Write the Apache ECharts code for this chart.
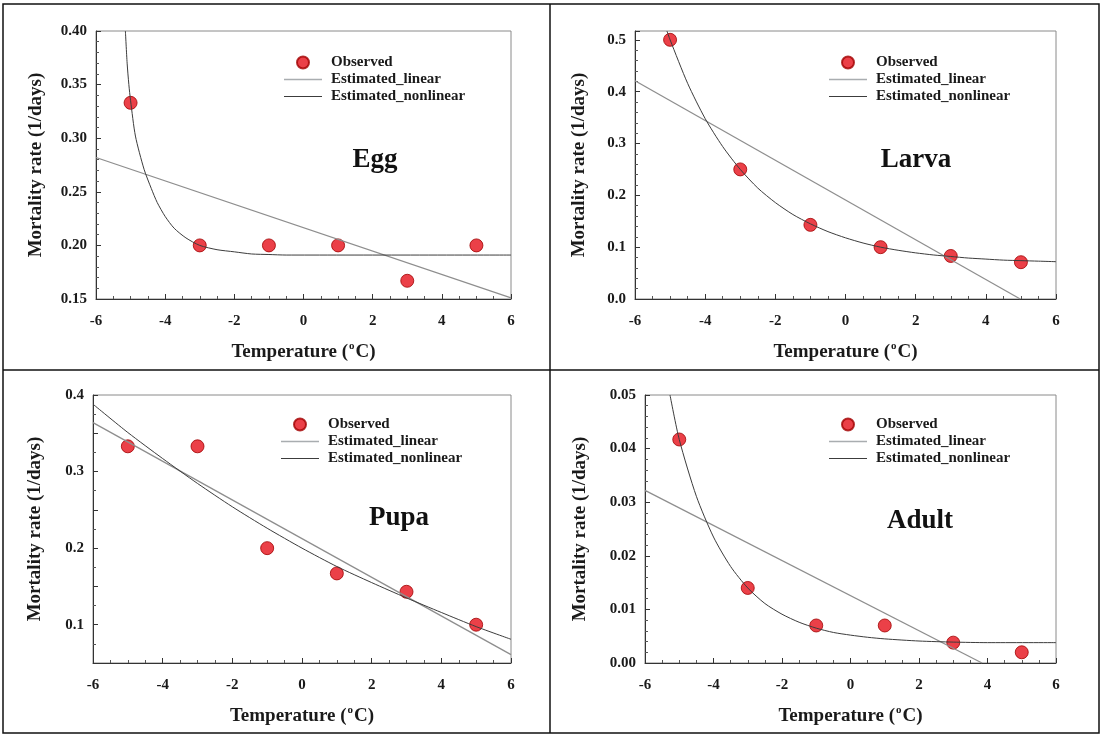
<!DOCTYPE html>
<html><head><meta charset="utf-8">
<script src="https://cdn.jsdelivr.net/npm/echarts@6/dist/echarts.min.js"></script>
<style>html,body{margin:0;padding:0;background:#fff}#c{width:1103px;height:735px}</style>
</head><body><div id="c"></div><script>
// ---- data ----
const temperature = [-5, -3, -1, 1, 3, 5];
const eggObserved   = [0.333, 0.200, 0.200, 0.200, 0.167, 0.200];
const larvaObserved = [0.500, 0.250, 0.143, 0.100, 0.083, 0.071];
const pupaObserved  = [0.333, 0.333, 0.200, 0.167, 0.143, 0.100];
const adultObserved = [0.0417, 0.0140, 0.0070, 0.0070, 0.0038, 0.0020];

const eggLinear   = [[-6, 0.282], [6, 0.151]];
const larvaLinear = [[-6, 0.421], [4.98, 0.0]];
const pupaLinear  = [[-6, 0.364], [6, 0.061]];
const adultLinear = [[-6, 0.0322], [3.84, 0.0]];

const eggNonlinear = [[-5.15,0.400],[-5.10,0.370],[-5.05,0.350],[-5.00,0.335],[-4.86,0.302],[-4.61,0.271],[-4.40,0.253],[-4.23,0.240],[-4.00,0.227],[-3.74,0.216],[-3.40,0.207],[-3.00,0.200],[-2.50,0.196],[-2.00,0.194],[-1.50,0.192],[-1.00,0.1915],[-0.50,0.191],[6,0.191]];
const larvaNonlinear = [[-5.09,0.517],[-5,0.500],[-4.5,0.416],[-4,0.348],[-3.5,0.294],[-3,0.250],[-2.5,0.214],[-2,0.186],[-1.5,0.163],[-1,0.145],[-0.5,0.130],[0,0.118],[0.5,0.108],[1,0.100],[1.5,0.094],[2,0.089],[2.5,0.085],[3,0.082],[3.5,0.079],[4,0.077],[4.5,0.075],[5,0.074],[5.5,0.073],[6,0.072]];
const pupaNonlinear = [[-6,0.388],[-5,0.351],[-4,0.317],[-3,0.2845],[-2,0.254],[-1,0.226],[0,0.200],[1,0.176],[2,0.155],[3,0.135],[4,0.116],[5,0.0975],[6,0.081]];
const adultNonlinear = [[-5.27,0.050],[-5,0.0417],[-4.5,0.0311],[-4,0.0235],[-3.5,0.0180],[-3,0.0140],[-2.5,0.0111],[-2,0.0091],[-1.5,0.0076],[-1,0.0065],[-0.5,0.0057],[0,0.0052],[0.5,0.0048],[1,0.0045],[2,0.0041],[3,0.0039],[4,0.0038],[6,0.0038]];

// axis ranges [min, max, interval]
const xAxisRange = [-6, 6, 2];
const eggYAxis   = [0.15, 0.40, 0.05];
const larvaYAxis = [0.0, 0.517, 0.1];
const pupaYAxis  = [0.05, 0.40, 0.05];
const adultYAxis = [0.0, 0.05, 0.01];

const stageNames = ['Egg', 'Larva', 'Pupa', 'Adult'];
const seriesNames = ['Observed', 'Estimated_linear', 'Estimated_nonlinear'];
const yTitle = 'Mortality rate (1/days)';

// ---- layout / style ----
const FONT = '"Liberation Serif", "Times New Roman", serif';
const LIN_COLOR = '#8e8e8e', NL_COLOR = '#3c3c3c';
const layout = [
  {grid:{left:96, top:31, width:415, height:268}, legend:[279,50], label:[375,160], yGap:50, yDec:2, yEvery:1},
  {grid:{left:635, top:31, width:421, height:268}, legend:[824,50], label:[916,160], yGap:46, yDec:1, yEvery:1},
  {grid:{left:93, top:395, width:418, height:268}, legend:[276,412], label:[399,518], yGap:48, yDec:1, yEvery:2},
  {grid:{left:645, top:395, width:411, height:268}, legend:[824,412], label:[920,521], yGap:55, yDec:2, yEvery:1}
];
const observedSets = [eggObserved, larvaObserved, pupaObserved, adultObserved];
const linearSets = [eggLinear, larvaLinear, pupaLinear, adultLinear];
const nonlinearSets = [eggNonlinear, larvaNonlinear, pupaNonlinear, adultNonlinear];
const yRanges = [eggYAxis, larvaYAxis, pupaYAxis, adultYAxis];

const labelStyle = {fontFamily:FONT, fontWeight:'bold', fontSize:15, color:'#1a1a1a'};
const axisLineStyle = {color:'#333', width:1};

const option = {
  animation:false,
  backgroundColor:'#fff',
  grid: layout.map(l => Object.assign({show:true, borderColor:'#8a8a8a', borderWidth:1, backgroundColor:'transparent'}, l.grid)),
  xAxis: layout.map((l,i) => ({
    type:'value', gridIndex:i, min:xAxisRange[0], max:xAxisRange[1], interval:xAxisRange[2],
    axisLine:{show:true, onZero:false, lineStyle:axisLineStyle},
    axisTick:{show:true, inside:true, length:5, lineStyle:axisLineStyle},
    minorTick:{show:true, splitNumber:4, length:3, lineStyle:{color:'#555'}},
    splitLine:{show:false},
    axisLabel:Object.assign({margin:15}, labelStyle),
    name:'{t|Temperature (}{s|o}{t|C)}', nameLocation:'middle', nameGap:42,
    nameTextStyle:{rich:{
      t:{fontFamily:FONT, fontWeight:'bold', fontSize:19, color:'#1a1a1a', lineHeight:22},
      s:{fontFamily:FONT, fontWeight:'bold', fontSize:11, color:'#1a1a1a', verticalAlign:'top', lineHeight:22, padding:[0,1,10,1]}
    }}
  })),
  yAxis: layout.map((l,i) => ({
    type:'value', gridIndex:i, min:yRanges[i][0], max:yRanges[i][1], interval:yRanges[i][2],
    axisLine:{show:true, onZero:false, lineStyle:axisLineStyle},
    axisTick:{show:true, inside:true, length:5, lineStyle:axisLineStyle},
    minorTick:{show:true, splitNumber:l.yEvery===2 ? 2 : 5, length:3, lineStyle:{color:'#555'}},
    splitLine:{show:false},
    axisLabel:Object.assign({margin:9, showMaxLabel: i===1 ? false : true,
      formatter: v => {
        if (l.yEvery === 2 && Math.abs(v*10 - Math.round(v*10)) > 1e-6) return '';
        return v.toFixed(l.yDec);
      }}, labelStyle),
    name:yTitle, nameLocation:'middle', nameGap:l.yGap,
    nameTextStyle:{fontFamily:FONT, fontWeight:'bold', fontSize:19, color:'#1a1a1a'}
  })),
  legend: layout.map(l => ({
    left:l.legend[0], top:l.legend[1], orient:'vertical', itemWidth:38, itemHeight:12, itemGap:2,
    selectedMode:false,
    data:[
      {name:seriesNames[0], icon:'circle'},
      {name:seriesNames[1], icon:'path://M0,0H38V1.4H0Z', itemStyle:{color:'#a9adb0'}},
      {name:seriesNames[2], icon:'path://M0,0H38V1.1H0Z', itemStyle:{color:NL_COLOR}}
    ],
    textStyle:{fontFamily:FONT, fontWeight:'bold', fontSize:15, color:'#1a1a1a', padding:[0,0,0,4]}
  })),
  series: [],
  graphic: []
};

layout.forEach((l,i) => {
  option.series.push({
    name:seriesNames[0], type:'scatter', xAxisIndex:i, yAxisIndex:i,
    data: temperature.map((t,k) => [t, observedSets[i][k]]),
    symbol:'circle', symbolSize:13,
    itemStyle:{color:'#e6101a', borderColor:'#a00000', borderWidth:1}, z:2
  });
  option.series.push({
    name:seriesNames[1], type:'line', xAxisIndex:i, yAxisIndex:i,
    data: linearSets[i], symbol:'none', showSymbol:false,
    lineStyle:{color:LIN_COLOR, width:1.3}, itemStyle:{color:LIN_COLOR}, z:3
  });
  option.series.push({
    name:seriesNames[2], type:'line', xAxisIndex:i, yAxisIndex:i,
    data: nonlinearSets[i], symbol:'none', showSymbol:false, smooth:0.25,
    lineStyle:{color:NL_COLOR, width:1}, itemStyle:{color:NL_COLOR}, z:4
  });
  option.graphic.push({
    type:'text', x:l.label[0], y:l.label[1],
    style:{text:stageNames[i], fontFamily:FONT, fontWeight:'bold', fontSize:27, fill:'#111', align:'center', verticalAlign:'middle'}
  });
});

// table borders
const border = {stroke:'#111', lineWidth:1.5};
option.graphic.push({type:'rect', shape:{x:3, y:4, width:1096, height:729}, style:Object.assign({fill:'none'}, border), silent:true});
option.graphic.push({type:'line', shape:{x1:550, y1:4, x2:550, y2:733}, style:border, silent:true});
option.graphic.push({type:'line', shape:{x1:3, y1:370, x2:1099, y2:370}, style:border, silent:true});

const chart = echarts.init(document.getElementById('c'), null, {renderer:'canvas'});
chart.setOption(option);
</script></body></html>
